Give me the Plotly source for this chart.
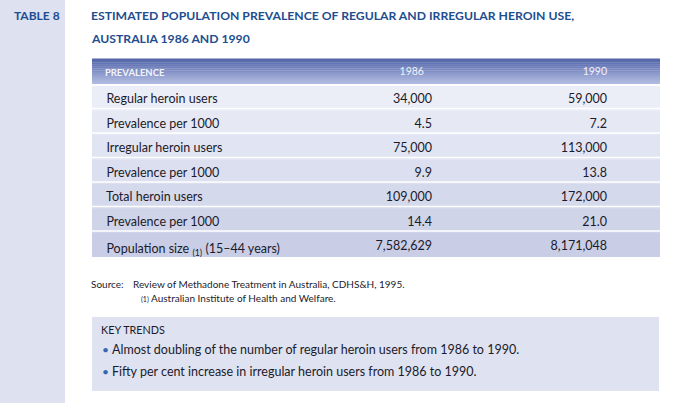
import plotly.graph_objects as go

W, H = 678, 403

# ---- data ----
header_labels = ["PREVALENCE", "1986", "1990", ""]
row_labels = [
    "Regular heroin users",
    "Prevalence per 1000",
    "Irregular heroin users",
    "Prevalence per 1000",
    "Total heroin users",
    "Prevalence per 1000",
    "Population size <sub>(1)</sub> (15–44 years)",
]
values_1986 = ["34,000", "4.5", "75,000", "9.9", "109,000", "14.4", "7,582,629"]
values_1990 = ["59,000", "7.2", "113,000", "13.8", "172,000", "21.0", "8,171,048"]

title_lines = ["ESTIMATED POPULATION PREVALENCE OF REGULAR AND IRREGULAR HEROIN USE,",
               "AUSTRALIA 1986 AND 1990"]
table_tag = "TABLE 8"
source_text = "Review of Methadone Treatment in Australia, CDHS&H, 1995."
note_text = "<span style='font-size:7px'>(1)</span> Australian Institute of Health and Welfare."
key_title = "KEY TRENDS"
key_points = [
    "Almost doubling of the number of regular heroin users from 1986 to 1990.",
    "Fifty per cent increase in irregular heroin users from 1986 to 1990.",
]

# ---- styles ----
BLUE = "#1d4e8f"
TEXT = "#1b1b2b"
SIDEBAR = "#dee1ef"
row_fills = ["#eceef7", "#e6e9f4", "#e1e4f2", "#dbdfef", "#d5d9ec", "#cfd4e9", "#c9cee6"]
HDR_TOP_RGB = (84, 102, 170)
HDR_BOT_RGB = (176, 186, 224)
FONT = "Lato"

n = len(row_labels)
pad = "\u00a0\u00a0"
col_cells = [
    [pad + s for s in row_labels],
    values_1986,
    values_1990,
    ["\u00a0"] * n,
]
hdr = [pad + "<b>" + header_labels[0] + "</b>",
       header_labels[1] + "\u00a0\u00a0\u00a0", header_labels[2], "\u00a0"]

fills = [row_fills for _ in range(4)]
line_cols = [row_fills for _ in range(4)]

TBL_TOP, HDR_H, ROW_H = 59, 25, 24.5
X_LEFT, X_RIGHT = 92, 660
x0, x1 = X_LEFT / W, X_RIGHT / W
tbl_bottom = TBL_TOP + HDR_H + ROW_H * n
y_top, y_bot = 1 - TBL_TOP / H, 1 - (tbl_bottom + 2) / H

fig = go.Figure()
fig.add_trace(go.Table(
    domain=dict(x=[x0, x1], y=[y_bot, y_top]),
    columnwidth=[208, 140, 175, 45],
    header=dict(
        values=hdr,
        fill_color="rgba(0,0,0,0)",
        line=dict(color="rgba(0,0,0,0)", width=0),
        align=["left", "right", "right", "left"],
        font=dict(family=FONT, size=[9.5, 10.5, 10.5, 9.5], color="#f2f3fa"),
        height=HDR_H,
    ),
    cells=dict(
        values=col_cells,
        fill_color=fills,
        line=dict(color=line_cols, width=0),
        align=["left", "right", "right", "left"],
        font=dict(family=FONT, size=12.5, color=TEXT),
        height=ROW_H,
    ),
))

shapes = [
    dict(type="rect", xref="paper", yref="paper", x0=0, x1=65 / W, y0=0, y1=1,
         fillcolor=SIDEBAR, line=dict(width=0), layer="below"),
    dict(type="rect", xref="paper", yref="paper", x0=92 / W, x1=659 / W,
         y0=1 - 391 / H, y1=1 - 317 / H,
         fillcolor="#dfe2f0", line=dict(width=0), layer="below"),
]
# vertical gradient behind the (transparent) header
steps = 13
for i in range(steps):
    t = i / (steps - 1)
    r, g, b = (round(a + (c - a) * t) for a, c in zip(HDR_TOP_RGB, HDR_BOT_RGB))
    ya = TBL_TOP + HDR_H * i / steps
    yb = TBL_TOP + HDR_H * (i + 1) / steps
    shapes.append(dict(type="rect", xref="paper", yref="paper", x0=x0, x1=x1,
                       y0=1 - yb / H, y1=1 - ya / H + 0.001,
                       fillcolor=f"rgb({r},{g},{b})", line=dict(width=0), layer="below"))
# white row separators between table rows
for k in range(1, n):
    yy = 1 - (TBL_TOP + HDR_H + k * ROW_H) / H
    shapes.append(dict(type="line", xref="paper", yref="paper", x0=x0, x1=x1,
                       y0=yy, y1=yy, line=dict(color="white", width=1.5), layer="above"))

ann = []
def add(text, x, y, size, color=TEXT, bold=False):
    ann.append(dict(text=f"<b>{text}</b>" if bold else text, x=x / W, y=1 - y / H,
                    xref="paper", yref="paper", xanchor="left", yanchor="middle",
                    showarrow=False, font=dict(family=FONT, size=size, color=color)))

add(table_tag, 12, 15, 12, BLUE, True)
add(title_lines[0], 89, 15, 12.2, BLUE, True)
add(title_lines[1], 89, 38, 12.2, BLUE, True)
add("Source:", 89, 284, 10)
add(source_text, 131, 284, 10)
add(note_text, 139, 298, 10)
add(key_title, 99, 329, 10.8)
for i, t in enumerate(key_points):
    yy = 349 + i * 22
    add("•", 100, yy, 12, "#3566b0")
    add(t, 110, yy, 12.5)

fig.update_layout(
    width=W, height=H,
    margin=dict(l=0, r=0, t=0, b=0),
    paper_bgcolor="white", plot_bgcolor="white",
    shapes=shapes, annotations=ann,
    xaxis=dict(visible=False), yaxis=dict(visible=False),
)
fig.write_html("out.html", config={"displayModeBar": False},
               post_script="document.body.style.margin='0';")
